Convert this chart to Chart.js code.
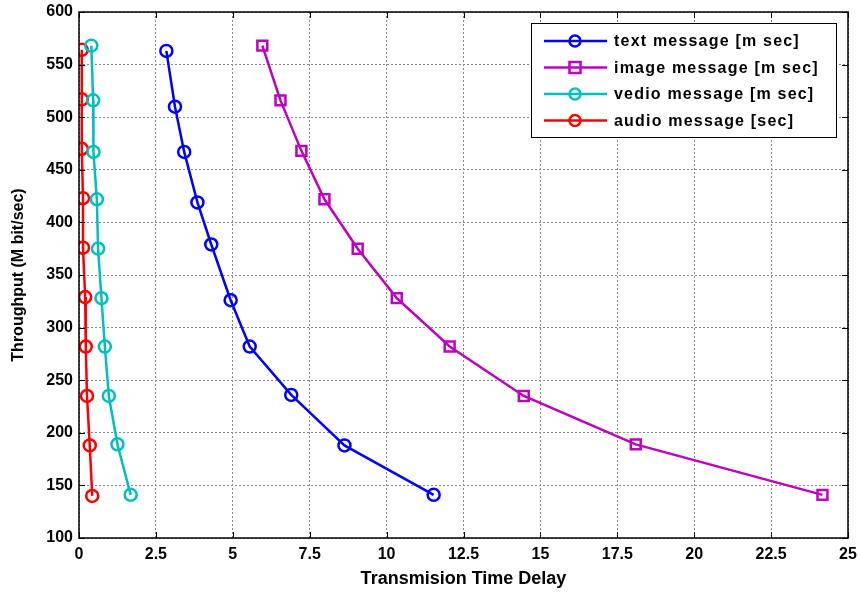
<!DOCTYPE html>
<html>
<head>
<meta charset="utf-8">
<script src="https://cdn.jsdelivr.net/npm/chart.js@4/dist/chart.umd.min.js"></script>
<style>
  body { margin: 0; background: #fff; }
  #chart { display: block; }
</style>
</head>
<body>
<canvas id="chart" width="860" height="597"></canvas>
<script>
const seriesNames = ["text message [m sec]", "image message [m sec]", "vedio message [m sec]", "audio message [sec]"];

const textDelay = [2.84, 3.12, 3.42, 3.85, 4.30, 4.93, 5.55, 6.90, 8.63, 11.53];
const textThroughput = [563, 510, 467, 419, 379, 326, 282, 236, 188, 141];

const imageDelay = [5.96, 6.55, 7.23, 7.98, 9.06, 10.33, 12.05, 14.46, 18.10, 24.17];
const imageThroughput = [568, 516, 468, 422, 375, 328, 282, 235, 189, 141];

const vedioDelay = [0.40, 0.46, 0.47, 0.58, 0.62, 0.73, 0.84, 0.97, 1.25, 1.68];
const vedioThroughput = [568, 516, 467, 422, 375, 328, 282, 235, 189, 141];

const audioDelay = [0.09, 0.09, 0.09, 0.13, 0.13, 0.20, 0.22, 0.26, 0.35, 0.43];
const audioThroughput = [564, 517, 470, 423, 376, 329, 282, 235, 188, 140];

const xTicks = [0, 2.5, 5, 7.5, 10, 12.5, 15, 17.5, 20, 22.5, 25];
const yTicks = [100, 150, 200, 250, 300, 350, 400, 450, 500, 550, 600];

const colors = ["#0000ff", "#bf00bf", "#00bfbf", "#ff0000"];
const markers = ["circle", "rect", "circle", "circle"];

function toPoints(xs, ys) {
    return xs.map(function(x, i) { return { x: x, y: ys[i] }; });
}

const allSeries = [
    toPoints(textDelay, textThroughput),
    toPoints(imageDelay, imageThroughput),
    toPoints(vedioDelay, vedioThroughput),
    toPoints(audioDelay, audioThroughput)
];

const datasets = allSeries.map(function(points, i) {
    return {
        label: seriesNames[i],
        data: points,
        borderColor: colors[i],
        backgroundColor: "rgba(0,0,0,0)",
        borderWidth: 2.5,
        pointStyle: markers[i],
        pointRadius: markers[i] === "rect" ? 7 : 6,
        pointBorderWidth: 2.5,
        pointBackgroundColor: "rgba(0,0,0,0)",
        pointBorderColor: colors[i],
        showLine: true,
        tension: 0
    };
});

// legend box drawn inside the plot, top right
const boxLegend = {
    id: "boxLegend",
    afterDraw(chart) {
        const ctx = chart.ctx;
        const area = chart.chartArea;
        const x0 = area.right - 317, y0 = area.top + 11, w = 305, h = 114;
        ctx.save();
        ctx.fillStyle = "#fff";
        ctx.fillRect(x0, y0, w, h);
        ctx.strokeStyle = "#000";
        ctx.lineWidth = 1;
        ctx.strokeRect(x0 + 0.5, y0 + 0.5, w, h);
        ctx.font = "bold 16px 'Liberation Sans', Arial, sans-serif";
        ctx.letterSpacing = "1.2px";
        ctx.textBaseline = "middle";
        chart.data.datasets.forEach(function(ds, i) {
            const y = y0 + 18 + i * 26.5;
            ctx.strokeStyle = ds.borderColor;
            ctx.lineWidth = 2.5;
            ctx.beginPath();
            ctx.moveTo(x0 + 13, y);
            ctx.lineTo(x0 + 76, y);
            ctx.stroke();
            const mx = x0 + 44;
            if (ds.pointStyle === "rect") {
                ctx.strokeRect(mx - 5.5, y - 5.5, 11, 11);
            } else {
                ctx.beginPath();
                ctx.arc(mx, y, 5.5, 0, Math.PI * 2);
                ctx.stroke();
            }
            ctx.fillStyle = "#000";
            ctx.fillText(ds.label, x0 + 83, y + 1);
        });
        ctx.restore();
    }
};

// inward tick marks and frame
const frame = {
    id: "frame",
    afterDatasetsDraw(chart) {
        const ctx = chart.ctx;
        const a = chart.chartArea;
        const xs = chart.scales.x, ys = chart.scales.y;
        ctx.save();
        ctx.strokeStyle = "#000";
        ctx.lineWidth = 1;
        xTicks.forEach(function(v) {
            const px = Math.round(xs.getPixelForValue(v)) + 0.5;
            ctx.beginPath();
            ctx.moveTo(px, a.bottom); ctx.lineTo(px, a.bottom - 6);
            ctx.moveTo(px, a.top); ctx.lineTo(px, a.top + 6);
            ctx.stroke();
        });
        yTicks.forEach(function(v) {
            const py = Math.round(ys.getPixelForValue(v)) + 0.5;
            ctx.beginPath();
            ctx.moveTo(a.left, py); ctx.lineTo(a.left + 6, py);
            ctx.moveTo(a.right, py); ctx.lineTo(a.right - 6, py);
            ctx.stroke();
        });
        ctx.lineWidth = 1.5;
        ctx.strokeRect(a.left, a.top, a.right - a.left, a.bottom - a.top);
        ctx.restore();
    }
};

const tickFont = { family: "'Liberation Sans', Arial, sans-serif", size: 16, weight: "bold" };

new Chart(document.getElementById("chart").getContext("2d"), {
    type: "scatter",
    data: { datasets: datasets },
    options: {
        responsive: false,
        animation: false,
        layout: { padding: { top: 12, right: 12, left: 0, bottom: 0 } },
        plugins: {
            legend: { display: false },
            tooltip: { enabled: false }
        },
        scales: {
            x: {
                type: "linear",
                min: 0,
                max: 25,
                afterBuildTicks(axis) { axis.ticks = xTicks.map(function(v) { return { value: v }; }); },
                afterFit(axis) {
                    axis.height = 59;
                    axis.paddingLeft = 0;
                    axis.paddingRight = 0;
                },
                ticks: { color: "#000", font: tickFont, padding: 7, maxRotation: 0, autoSkip: false },
                grid: { color: "#8a8a8a", lineWidth: 1, drawTicks: false },
                border: { display: false, dash: [2, 2] },
                title: {
                    display: true,
                    text: "Transmision Time Delay",
                    color: "#000",
                    font: { family: "'Liberation Sans', Arial, sans-serif", size: 18, weight: "bold" },
                    padding: { top: 4, bottom: 7 }
                }
            },
            y: {
                type: "linear",
                min: 100,
                max: 600,
                afterBuildTicks(axis) { axis.ticks = yTicks.map(function(v) { return { value: v }; }); },
                afterFit(axis) {
                    axis.width = 79;
                    axis.paddingTop = 0;
                    axis.paddingBottom = 0;
                },
                ticks: { color: "#000", font: tickFont, padding: 6, autoSkip: false },
                grid: { color: "#8a8a8a", lineWidth: 1, drawTicks: false },
                border: { display: false, dash: [2, 2] },
                title: {
                    display: true,
                    text: "Throughput (M bit/sec)",
                    color: "#000",
                    font: { family: "'Liberation Sans', Arial, sans-serif", size: 16, weight: "bold" },
                    padding: { top: 9, bottom: 4 }
                }
            }
        }
    },
    plugins: [frame, boxLegend]
});
</script>
</body>
</html>
